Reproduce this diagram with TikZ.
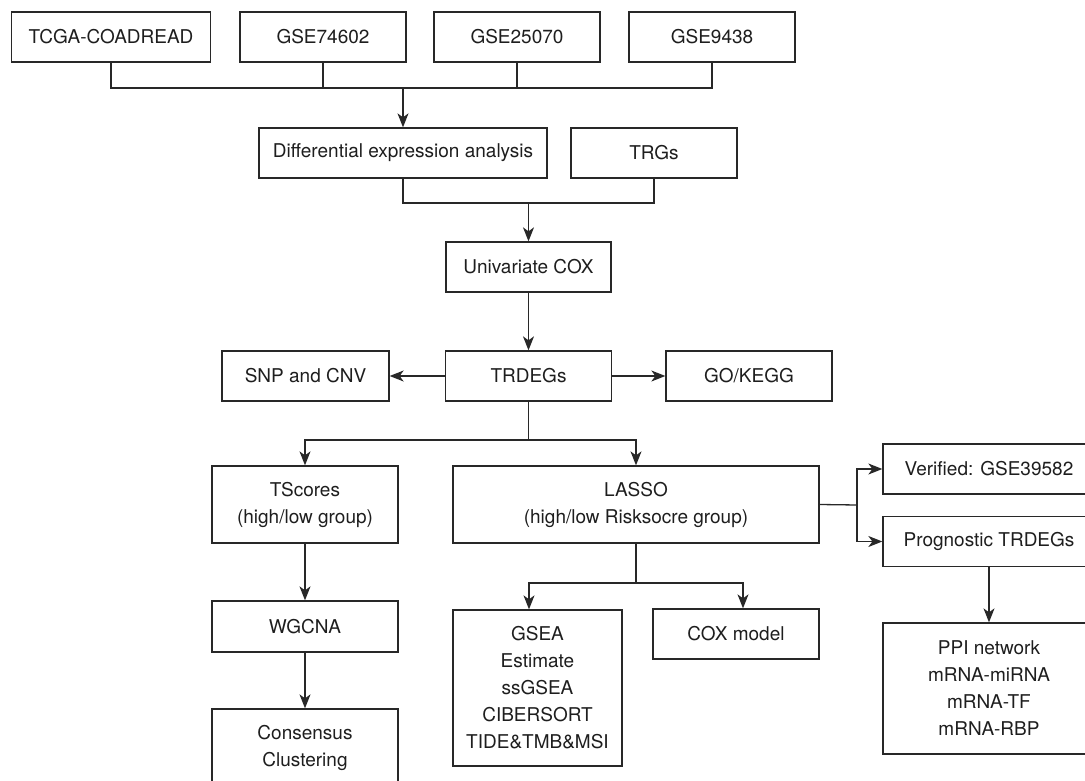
\documentclass[tikz,border=0pt]{standalone}
\usepackage{fontspec}
\setmainfont{TeX Gyre Heros}
\usepackage{tikz}
\usetikzlibrary{positioning,calc}
\usetikzlibrary{arrows.meta}
\definecolor{LineGray}{RGB}{40,40,40}
\definecolor{TextGray}{RGB}{30,30,30}
\tikzset{
	blk/.style={draw=LineGray,line width=1.3pt,fill=white,inner sep=0pt,minimum height=50pt,
		align=center,text=TextGray,font=\fontsize{19}{27}\selectfont},
	link/.style={draw=LineGray,line width=1.3pt},
	arr/.style={link,-{Stealth[length=14pt,width=11pt,inset=4pt]}},
}

\begin{document}
\begin{tikzpicture}[x=1pt,y=-1pt]
			\useasboundingbox (0,0) rectangle (1085,781);
			\clip (0,0) rectangle (1085,781);
			% data sets
			\node[blk,minimum width=199pt] (tcga) at (111,37) {TCGA-COADREAD};
			\node[blk,minimum width=166pt] (g74) at (323,37) {GSE74602};
			\node[blk,minimum width=166pt] (g25) at (517,37) {GSE25070};
			\node[blk,minimum width=166pt] (g94) at (712,37) {GSE9438};
			\node[blk,minimum width=288pt] (dea) at (403,153) {Differential expression analysis};
			\node[blk,minimum width=166pt] (trgs) at (654,153) {TRGs};
			\node[blk,minimum width=165pt] (ucox) at (528.5,267) {Univariate COX};
			\node[blk,minimum width=166pt] (trdeg) at (528.5,376) {TRDEGs};
			\node[blk,minimum width=167pt] (snp) at (305.5,376) {SNP and CNV};
			\node[blk,minimum width=166pt] (gokegg) at (749,376) {GO/KEGG};
			% second level
			\node[blk,minimum width=186pt,minimum height=77pt] (tsc) at (305,504.5) {TScores\\(high/low group)};
			\node[blk,minimum width=366pt,minimum height=77pt] (lasso) at (636,504.5) {LASSO\\(high/low Risksocre group)};
			\node[blk,minimum width=186pt,minimum height=51pt] (wgcna) at (305,626.5) {WGCNA};
			\node[blk,minimum width=186pt,minimum height=78pt] (cons) at (305,748) {Consensus\\Clustering};
			\node[blk,minimum width=169pt,minimum height=156pt] (gsea) at (537.5,688) {GSEA\\Estimate\\ssGSEA\\CIBERSORT\\TIDE\&TMB\&MSI};
			\node[blk,minimum width=166pt] (coxm) at (736,634) {COX model};
			\node[blk,minimum width=212pt] (verif) at (989,469) {Verified: GSE39582};
			\node[blk,minimum width=212pt] (prog) at (989,541.5) {Prognostic TRDEGs};
			\node[blk,minimum width=212pt,minimum height=131pt] (ppi) at (989,688.5) {PPI network\\mRNA-miRNA\\mRNA-TF\\mRNA-RBP};
			% joints
			\coordinate (j1) at (403,88);
			\coordinate (j2) at (528.5,203);
			\coordinate (j3) at (528.5,440);
			\coordinate (j4) at (636,583);
			\coordinate (j5) at (857,505);
			% connectors
			\draw[link] (tcga.south) |- (j1) -| (g94.south);
			\foreach \p in {g74,g25}
			\draw[link] (\p.south) -- (\p.south |- j1);
			\draw[arr] (j1) -- (dea.north);
			\draw[link] (dea.south) |- (j2) -| (trgs.south);
			\draw[arr] (j2) -- (ucox.north);
			\draw[arr] (ucox) -- (trdeg);
			\foreach \p in {snp,gokegg}
			\draw[arr] (trdeg) -- (\p);
			\draw[link] (trdeg.south) -- (j3);
			\foreach \p in {tsc,lasso}
			\draw[arr] (j3) -| (\p.north);
			\draw[arr] (tsc) -- (wgcna);
			\draw[arr] (wgcna) -- (cons);
			\draw[link] (lasso.south) -- (j4);
			\draw[arr] (j4) -| ([xshift=-8.5pt]gsea.north);
			\draw[arr] (j4) -| ([xshift=7pt]coxm.north);
			\draw[link] (lasso.east) -- (j5);
			\foreach \p in {verif,prog}
			\draw[arr] (j5) |- (\p.west);
			\draw[arr] (prog) -- (ppi);
		\end{tikzpicture}
\end{document}
